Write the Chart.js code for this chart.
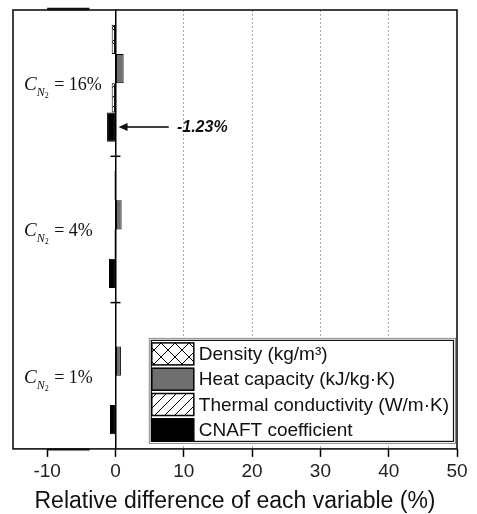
<!DOCTYPE html>
<html>
<head>
<meta charset="utf-8">
<script src="https://cdn.jsdelivr.net/npm/chart.js@4.4.1/dist/chart.umd.min.js"></script>
<style>
  html, body { margin: 0; padding: 0; background: #fff; }
  canvas { display: block; }
</style>
</head>
<body>
<canvas id="chart" width="477" height="514"></canvas>
<script>
// values (relative difference, %)
const categories = ['16%', '4%', '1%'];
const seriesLabels = ['Density (kg/m\u00b3)', 'Heat capacity (kJ/kg\u00b7K)', 'Thermal conductivity (W/m\u00b7K)', 'CNAFT coefficient'];
const density = [-0.55, -0.15, -0.05];
const heatCapacity = [1.2, 0.9, 0.8];
const thermalConductivity = [-0.55, -0.15, -0.05];
const cnaftCoefficient = [-1.23, -0.95, -0.8];
const xTicks = [-10, 0, 10, 20, 30, 40, 50];
const gridTicks = [10, 20, 30, 40];
const xMin = -15, xMax = 50;
const xTitle = 'Relative difference of each variable (%)';

const SANS = '"Liberation Sans", Arial, sans-serif';
const SERIF = '"Liberation Serif", "Times New Roman", serif';

(function(){
  const canvas = document.getElementById('chart');
  const ctx = canvas.getContext('2d');

  function makePattern(size, draw){
    const c = document.createElement('canvas');
    c.width = c.height = size;
    const g = c.getContext('2d');
    g.fillStyle = '#fff'; g.fillRect(0, 0, size, size);
    g.strokeStyle = '#000'; g.lineWidth = 1;
    g.beginPath(); draw(g, size); g.stroke();
    return ctx.createPattern(c, 'repeat');
  }
  const crossHatch = makePattern(14, (g, s) => {
    g.moveTo(-1, -1); g.lineTo(s + 1, s + 1);
    g.moveTo(s + 1, -1); g.lineTo(-1, s + 1);
  });
  const slashHatch = makePattern(10, (g, s) => {
    g.moveTo(-1, s + 1); g.lineTo(s + 1, -1);
    g.moveTo(-s / 2 - 1, s / 2 + 1); g.lineTo(s / 2 + 1, -s / 2 - 1);
    g.moveTo(s / 2 - 1, s * 1.5 + 1); g.lineTo(s * 1.5 + 1, s / 2 - 1);
  });

  const fills = [crossHatch, '#6f6f6f', slashHatch, '#000'];
  const series = [density, heatCapacity, thermalConductivity, cnaftCoefficient];

  const decor = {
    id: 'decor',
    afterDraw(chart){
      const c = chart.ctx, area = chart.chartArea;
      const xs = chart.scales.x, ys = chart.scales.y;
      const x0 = xs.getPixelForValue(0);
      c.save();

      // plot frame (with the heavier stretch the original shows on top/bottom near -10)
      c.strokeStyle = '#111'; c.lineWidth = 1.6;
      c.strokeRect(area.left, area.top, area.right - area.left, area.bottom - area.top);
      c.lineWidth = 2.4;
      c.beginPath();
      c.moveTo(xs.getPixelForValue(-10), area.top - 1); c.lineTo(xs.getPixelForValue(-3.8), area.top - 1);
      c.moveTo(xs.getPixelForValue(-10), area.bottom + 0.5); c.lineTo(xs.getPixelForValue(-3.8), area.bottom + 0.5);
      c.stroke();

      // short crossing ticks on the zero line between groups
      c.lineWidth = 1.5; c.strokeStyle = '#000';
      for(let i = 1; i < categories.length; i++){
        const y = (ys.getPixelForValue(i - 1) + ys.getPixelForValue(i)) / 2;
        c.beginPath(); c.moveTo(x0 - 5, y); c.lineTo(x0 + 5, y); c.stroke();
      }

      // group labels  C_{N2} = xx%
      c.fillStyle = '#111'; c.textBaseline = 'alphabetic'; c.textAlign = 'left';
      categories.forEach((cat, i) => {
        const base = ys.getPixelForValue(i) + 7;
        let x = area.left + 11;
        c.font = 'italic 19px ' + SERIF; c.fillText('C', x, base); x += c.measureText('C').width;
        c.font = 'italic 12px ' + SERIF; c.fillText('N', x, base + 6); x += c.measureText('N').width;
        c.font = '8px ' + SERIF; c.fillText('2', x, base + 8); x += c.measureText('2').width + 1;
        c.font = '18px ' + SERIF; c.fillText(' = ' + cat, x, base);
      });

      // arrow + value for the CNAFT bar of the first group
      const bar = chart.getDatasetMeta(3).data[0];
      const ay = bar.y;
      const tip = xs.getPixelForValue(0.45), tail = xs.getPixelForValue(7.8);
      c.lineWidth = 1.5;
      c.beginPath(); c.moveTo(tail, ay); c.lineTo(tip + 6, ay); c.stroke();
      c.beginPath(); c.moveTo(tip, ay); c.lineTo(tip + 9, ay - 4); c.lineTo(tip + 9, ay + 4); c.closePath(); c.fill();
      c.font = 'italic bold 16px ' + SANS; c.textBaseline = 'middle';
      c.fillText(cnaftCoefficient[0].toFixed(2) + '%', xs.getPixelForValue(9.0), ay + 1);

      // legend box
      c.font = '19px ' + SANS;
      const textW = Math.max(...seriesLabels.map(t => c.measureText(t).width));
      const sw = 42, sh = 22, rowH = 25.3;
      const boxW = 50 + textW + 7, boxH = 106;
      const bx = area.right - 1 - boxW, by = area.bottom - 5 - boxH;
      c.fillStyle = '#fff'; c.fillRect(bx, by, boxW, boxH);
      c.strokeStyle = '#8a8a8a'; c.lineWidth = 1; c.strokeRect(bx + 0.5, by + 0.5, boxW - 1, boxH - 1);
      c.strokeStyle = '#111'; c.lineWidth = 1.2; c.strokeRect(bx + 2.5, by + 2.5, boxW - 5, boxH - 5);
      seriesLabels.forEach((lab, i) => {
        const sy = by + 5 + i * rowH;
        c.fillStyle = fills[i]; c.fillRect(bx + 3, sy, sw, sh);
        c.strokeStyle = '#000'; c.lineWidth = 1.5; c.strokeRect(bx + 3, sy, sw, sh);
        c.fillStyle = '#111'; c.textBaseline = 'middle';
        c.fillText(lab, bx + 50, sy + sh / 2 + 1);
      });
      c.restore();
    }
  };

  new Chart(ctx, {
    type: 'bar',
    data: {
      labels: categories,
      datasets: series.map((d, i) => ({
        label: seriesLabels[i], data: d,
        backgroundColor: fills[i], borderColor: '#000', borderWidth: 1, borderSkipped: false,
        categoryPercentage: 0.8, barPercentage: 1.0
      }))
    },
    options: {
      indexAxis: 'y',
      responsive: false,
      devicePixelRatio: 1,
      animation: false,
      layout: { padding: { left: 13, right: 20, top: 10, bottom: 0 } },
      plugins: { legend: { display: false }, tooltip: { enabled: false } },
      scales: {
        x: {
          type: 'linear', min: xMin, max: xMax,
          afterBuildTicks: axis => { axis.ticks = xTicks.map(v => ({ value: v })); },
          ticks: { font: { size: 19, family: SANS }, color: '#222', padding: 3 },
          grid: {
            color: c => gridTicks.includes(c.tick && c.tick.value) ? '#a8a8a8' : 'rgba(0,0,0,0)',
            lineWidth: 1, tickColor: '#000', tickLength: 8, tickWidth: 1.5
          },
          border: { display: false, dash: [2, 2] },
          title: { display: true, text: xTitle, color: '#111', font: { size: 23, family: SANS, lineHeight: 1.1 }, padding: { top: 3, bottom: 0 } }
        },
        y: {
          type: 'category', position: { x: 0 }, offset: true,
          ticks: { display: false },
          grid: { display: false },
          border: { display: true, color: '#000', width: 1.5 }
        }
      }
    },
    plugins: [decor]
  });
})();
</script>
</body>
</html>
